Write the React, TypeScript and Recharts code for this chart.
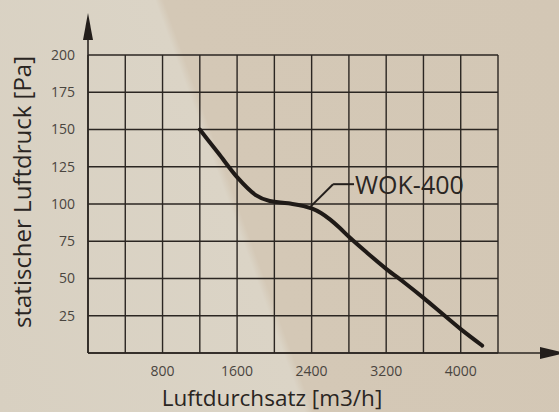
import React from 'react';
import * as R from 'recharts';
import {
  ComposedChart,
  Line,
  XAxis,
  YAxis,
  CartesianGrid,
  ReferenceLine,
  ReferenceDot,
} from 'recharts';

// ---- data ----
const flowValues = [1200, 1400, 1600, 1800, 1950, 2150, 2400, 2500, 2600, 2700, 2800, 3000, 3200, 3400, 3600, 3800, 4000, 4230];
const pressureValues = [150, 134, 118, 106, 102, 100.5, 97, 94, 89.5, 84, 78, 67, 56.5, 47, 37, 26.5, 16, 5];
const xTicks = [0, 400, 800, 1200, 1600, 2000, 2400, 2800, 3200, 3600, 4000, 4400];
const xTickLabels = [800, 1600, 2400, 3200, 4000];
const yTicks = [0, 25, 50, 75, 100, 125, 150, 175, 200];
const yTickLabels = [25, 50, 75, 100, 125, 150, 175, 200];
const seriesName = 'WOK-400';
const leaderFlow = [2383, 2630, 2855];
const leaderPressure = [97.9, 113.3, 113.3];
const xAxisTitle = 'Luftdurchsatz [m3/h]';
const yAxisTitle = 'statischer Luftdruck [Pa]';

const curve = flowValues.map((f, i) => ({ flow: f, pressure: pressureValues[i] }));

const W = 559;
const H = 412;
const MARGIN = { top: 55, right: 61, bottom: 0, left: 0 };
const Y_AXIS_W = 88;
const X_AXIS_H = 59;
const INK = '#2b2622';
const FONT = '"Open Sans", "DejaVu Sans", sans-serif';

const usePlotAreaHook: () => any =
  (R as any).usePlotArea || (R as any).useOffset || (() => null);

function AxisArrows() {
  const area = usePlotAreaHook();
  const x = area && area.x != null ? area.x : MARGIN.left + Y_AXIS_W;
  const y = area && area.y != null ? area.y : MARGIN.top;
  const width = area && area.width != null ? area.width : W - MARGIN.left - MARGIN.right - Y_AXIS_W;
  const height = area && area.height != null ? area.height : H - MARGIN.top - MARGIN.bottom - X_AXIS_H;
  const bottom = y + height;
  const right = x + width;
  return (
    <g>
      <line x1={x} y1={bottom} x2={x} y2={y - 30} stroke={INK} strokeWidth={1.6} />
      <polygon points={`${x},${y - 42} ${x + 5},${y - 15} ${x - 5},${y - 15}`} fill="#231e1b" />
      <line x1={x} y1={bottom} x2={right + 46} y2={bottom} stroke={INK} strokeWidth={1.6} />
      <polygon points={`${right + 42},${bottom - 6} ${right + 68},${bottom} ${right + 42},${bottom + 6}`} fill="#231e1b" />
    </g>
  );
}

export default function App() {
  return (
    <div
      style={{
        position: 'absolute',
        left: 0,
        top: 0,
        width: W,
        height: H,
        background:
          'linear-gradient(70deg, #d8d0c1 0%, #dbd4c6 43%, #d4c8b6 44.2%, #d3c7b5 100%)',
        fontFamily: FONT,
      }}
    >
      <ComposedChart width={W} height={H} margin={MARGIN}>
        <CartesianGrid stroke={INK} strokeWidth={1.4} strokeOpacity={1} />
        <XAxis
          type="number"
          dataKey="flow"
          domain={[0, 4400]}
          ticks={xTicks}
          interval={0}
          height={X_AXIS_H}
          axisLine={false}
          tickLine={false}
          tickSize={0}
          tickMargin={13}
          tick={{ fill: '#4a453f', fontSize: 14, fontFamily: FONT }}
          tickFormatter={(v: number) => (xTickLabels.includes(v) ? String(v) : '')}
          label={{
            content: ({ viewBox }: any) => (
              <text
                x={viewBox.x + viewBox.width / 2 - 21}
                y={viewBox.y + viewBox.height - 6.5}
                textAnchor="middle"
                fill="#2a2522"
                fontSize={22.5}
                fontFamily={FONT}
              >
                {xAxisTitle}
              </text>
            ),
          }}
        />
        <YAxis
          type="number"
          domain={[0, 200]}
          ticks={yTicks}
          interval={0}
          width={Y_AXIS_W}
          axisLine={false}
          tickLine={false}
          tickSize={0}
          tickMargin={13}
          tick={{ fill: '#4a453f', fontSize: 14, fontFamily: FONT }}
          tickFormatter={(v: number) => (yTickLabels.includes(v) ? String(v) : '')}
          label={{
            content: ({ viewBox }: any) => {
              const cx = viewBox.x + 31;
              const cy = viewBox.y + viewBox.height / 2 - 12;
              return (
                <text
                  x={cx}
                  y={cy}
                  transform={`rotate(-90 ${cx} ${cy})`}
                  textAnchor="middle"
                  fill="#2a2522"
                  fontSize={24}
                  fontFamily={FONT}
                >
                  {yAxisTitle}
                </text>
              );
            },
          }}
        />
        <Line
          data={curve}
          dataKey="pressure"
          type="monotone"
          stroke="#1f1a17"
          strokeWidth={4}
          dot={false}
          activeDot={false}
          isAnimationActive={false}
          strokeLinecap="round"
        />
        <ReferenceLine
          segment={[
            { x: leaderFlow[0], y: leaderPressure[0] },
            { x: leaderFlow[1], y: leaderPressure[1] },
          ]}
          stroke="#231e1b"
          strokeWidth={2}
        />
        <ReferenceLine
          segment={[
            { x: leaderFlow[1], y: leaderPressure[1] },
            { x: leaderFlow[2], y: leaderPressure[2] },
          ]}
          stroke="#231e1b"
          strokeWidth={2}
        />
        <ReferenceDot
          x={leaderFlow[2]}
          y={leaderPressure[2]}
          r={0}
          fill="none"
          stroke="none"
          label={{
            content: ({ viewBox }: any) => (
              <text
                x={viewBox.x + 1}
                y={viewBox.y + viewBox.height / 2 + 10}
                textAnchor="start"
                fill="#2a2522"
                fontSize={25}
                fontFamily={FONT}
              >
                {seriesName}
              </text>
            ),
          }}
        />
        <AxisArrows />
      </ComposedChart>
    </div>
  );
}
